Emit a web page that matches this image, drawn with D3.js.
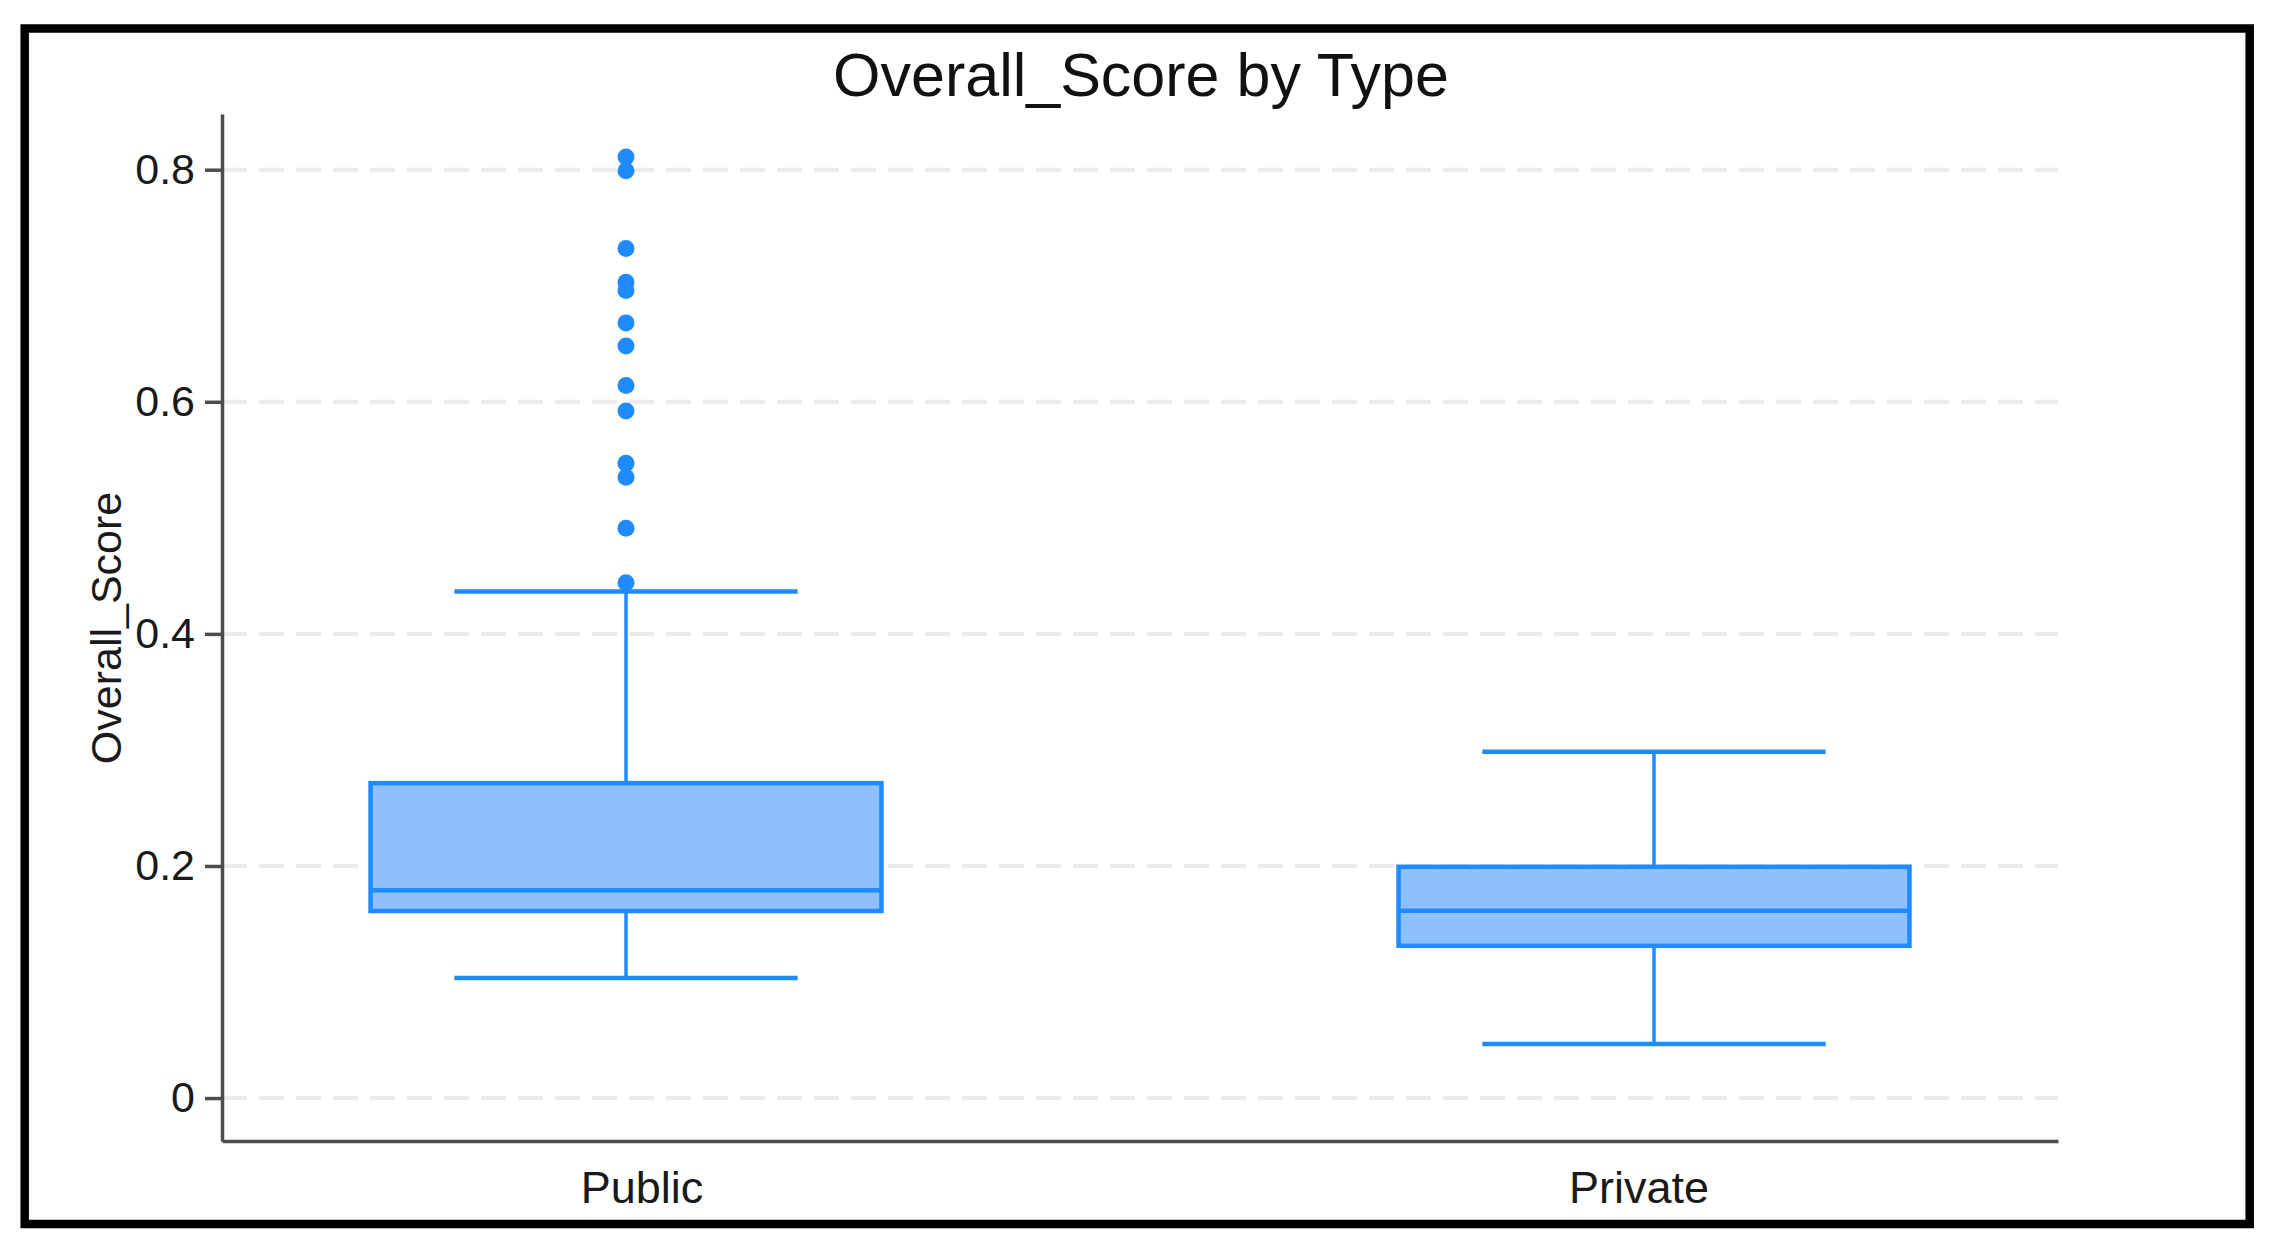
<!DOCTYPE html>
<html>
<head>
<meta charset="utf-8">
<script src="https://cdn.jsdelivr.net/npm/d3@7"></script>
<style>
    body { margin: 0; background: #fff; }
    text { font-family: "Liberation Sans", Arial, sans-serif; }
</style>
</head>
<body>
<div id="chart"></div>
<script>
// values
const types = ["Public", "Private"];
const whiskerLow = [0.1035, 0.0465];
const q1 = [0.1612, 0.1312];
const median = [0.179, 0.1614];
const q3 = [0.2714, 0.1993];
const whiskerHigh = [0.4365, 0.2984];
const publicOutliers = [0.811, 0.799, 0.732, 0.703, 0.696, 0.668, 0.648, 0.614, 0.592, 0.547, 0.535, 0.491, 0.444];
const privateOutliers = [];
const yTicks = [0, 0.2, 0.4, 0.6, 0.8];
const yTickLabels = ["0", "0.2", "0.4", "0.6", "0.8"];

const boxes = types.map((t, i) => ({
    type: t,
    low: whiskerLow[i],
    q1: q1[i],
    median: median[i],
    q3: q3[i],
    high: whiskerHigh[i],
    outliers: i === 0 ? publicOutliers : privateOutliers,
}));

const width = 2274;
const height = 1248;
const plotLeft = 222, plotRight = 2058, plotTop = 114, plotBottom = 1141;

const stroke = "#1f8bff";
const fill = "#8ec0fb";
const axisColor = "#4d4d4d";

const svg = d3.select("#chart")
    .append("svg")
    .attr("width", width)
    .attr("height", height);

// outer frame
svg.append("rect")
    .attr("x", 24.7)
    .attr("y", 28.5)
    .attr("width", 2225)
    .attr("height", 1195.5)
    .attr("fill", "none")
    .attr("stroke", "#000")
    .attr("stroke-width", 8.5);

const x = d3.scalePoint()
    .domain(types)
    .range([plotLeft, plotRight])
    .padding(0.393);

// the category labels sit a little closer to the middle than the boxes
const xLabel = d3.scalePoint()
    .domain(types)
    .range([plotLeft, plotRight])
    .padding(0.4207);

const y = d3.scaleLinear()
    .domain([-0.037, 0.848])
    .range([plotBottom, plotTop]);

const step = x.step();
const boxWidth = step * 0.497;
const capWidth = step * 0.334;

// grid
svg.append("g")
    .selectAll("line")
    .data(yTicks)
    .join("line")
    .attr("x1", plotLeft)
    .attr("x2", plotRight)
    .attr("y1", d => y(d))
    .attr("y2", d => y(d))
    .attr("stroke", "#ebebeb")
    .attr("stroke-width", 4)
    .attr("stroke-dasharray", "25 12");

// y axis
const yAxis = svg.append("g")
    .attr("transform", `translate(${plotLeft},0)`)
    .call(d3.axisLeft(y)
        .tickValues(yTicks)
        .tickFormat((d, i) => yTickLabels[i])
        .tickSize(17)
        .tickPadding(10)
        .tickSizeOuter(0));

yAxis.select(".domain")
    .attr("stroke", axisColor)
    .attr("stroke-width", 3.5);
yAxis.selectAll(".tick line")
    .attr("stroke", axisColor)
    .attr("stroke-width", 3.5);
yAxis.selectAll(".tick text")
    .attr("fill", "#1a1a1a")
    .style("font-size", "43px")
    .style("font-family", "'Liberation Sans', Arial, sans-serif");

// x axis
const xAxis = svg.append("g")
    .attr("transform", `translate(0,${plotBottom})`)
    .call(d3.axisBottom(xLabel)
        .tickSize(0)
        .tickPadding(30)
        .tickSizeOuter(0));

xAxis.select(".domain")
    .attr("stroke", axisColor)
    .attr("stroke-width", 3.5);
xAxis.selectAll(".tick text")
    .attr("fill", "#1a1a1a")
    .style("font-size", "45px")
    .style("font-family", "'Liberation Sans', Arial, sans-serif");

// y axis title
svg.append("text")
    .attr("transform", `translate(121,628) rotate(-90)`)
    .attr("text-anchor", "middle")
    .style("font-size", "43px")
    .attr("fill", "#1a1a1a")
    .text("Overall_Score");

// chart title
svg.append("text")
    .attr("x", 1141)
    .attr("y", 96)
    .attr("text-anchor", "middle")
    .style("font-size", "61px")
    .attr("fill", "#111")
    .text("Overall_Score by Type");

// boxes
const groups = svg.selectAll(".box")
    .data(boxes)
    .join("g")
    .attr("class", "box")
    .attr("transform", d => `translate(${x(d.type)},0)`);

groups.append("line")
    .attr("x1", 0)
    .attr("x2", 0)
    .attr("y1", d => y(d.high))
    .attr("y2", d => y(d.q3))
    .attr("stroke", stroke)
    .attr("stroke-width", 3.5);

groups.append("line")
    .attr("x1", 0)
    .attr("x2", 0)
    .attr("y1", d => y(d.q1))
    .attr("y2", d => y(d.low))
    .attr("stroke", stroke)
    .attr("stroke-width", 3.5);

groups.selectAll(".cap")
    .data(d => [d.low, d.high])
    .join("line")
    .attr("class", "cap")
    .attr("x1", -capWidth / 2)
    .attr("x2", capWidth / 2)
    .attr("y1", d => y(d))
    .attr("y2", d => y(d))
    .attr("stroke", stroke)
    .attr("stroke-width", 4.5);

groups.append("rect")
    .attr("x", -boxWidth / 2)
    .attr("width", boxWidth)
    .attr("y", d => y(d.q3))
    .attr("height", d => y(d.q1) - y(d.q3))
    .attr("fill", fill)
    .attr("stroke", stroke)
    .attr("stroke-width", 4.5);

groups.append("line")
    .attr("x1", -boxWidth / 2)
    .attr("x2", boxWidth / 2)
    .attr("y1", d => y(d.median))
    .attr("y2", d => y(d.median))
    .attr("stroke", stroke)
    .attr("stroke-width", 4.5);

groups.selectAll(".outlier")
    .data(d => d.outliers)
    .join("circle")
    .attr("class", "outlier")
    .attr("cx", 0)
    .attr("cy", d => y(d))
    .attr("r", 8.5)
    .attr("fill", stroke);
</script>
</body>
</html>
